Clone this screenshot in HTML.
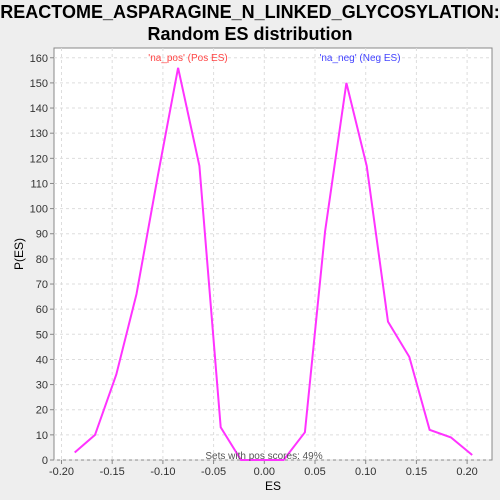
<!DOCTYPE html>
<html><head><meta charset="utf-8"><style>
body{margin:0;background:#eeeeee;}
svg{display:block;font-family:"Liberation Sans",sans-serif;}
</style></head><body>
<svg id="chart" width="500" height="500">
<text x="250" y="18" text-anchor="middle" font-size="18" font-weight="bold" fill="#000">REACTOME_ASPARAGINE_N_LINKED_GLYCOSYLATION:</text>
<text x="250" y="40" text-anchor="middle" font-size="18" font-weight="bold" fill="#000">Random ES distribution</text>
<rect x="54" y="48" width="438" height="412" fill="#fff" stroke="#888"/>
<g id="grid"></g><g id="axes"></g><g id="series"></g>
<text x="188" y="61" text-anchor="middle" font-size="10" fill="#ff4444">'na_pos' (Pos ES)</text>
<text x="360" y="61" text-anchor="middle" font-size="10" fill="#4444ff">'na_neg' (Neg ES)</text>
<text x="264" y="459" text-anchor="middle" font-size="10" fill="#555">Sets with pos scores: 49%</text>
<text x="273" y="490" text-anchor="middle" font-size="12" fill="#000">ES</text>
<text x="23" y="254" text-anchor="middle" font-size="12" fill="#000" transform="rotate(-90 23 254)">P(ES)</text>
</svg>
<script>
const esValues=[-0.187,-0.167,-0.146,-0.126,-0.105,-0.085,-0.064,-0.043,-0.023,-0.002,0.019,0.040,0.060,0.081,0.101,0.122,0.143,0.163,0.184,0.205];
const densityValues=[3,10,34,66,113,156,117,13,0,0,0,11,91,150,117,55,41,12,9,2];
const xTicks=[-0.20,-0.15,-0.10,-0.05,0.00,0.05,0.10,0.15,0.20];
const yTicks=[0,10,20,30,40,50,60,70,80,90,100,110,120,130,140,150,160];
const NS="http://www.w3.org/2000/svg";
function xs(v){return 264.3+v*1014;}
function ys(v){return 460-v*2.514;}
const grid=document.getElementById('grid'),axes=document.getElementById('axes'),series=document.getElementById('series');
function mk(t,a,p){const e=document.createElementNS(NS,t);for(const k in a)e.setAttribute(k,a[k]);p.appendChild(e);return e;}
xTicks.forEach(t=>{
 const x=xs(t);
 const g=mk('line',{x1:x,x2:x,y1:48,y2:460,stroke:'#ddd','stroke-dasharray':'3,3'},grid);
 
 
 const tk=mk('line',{x1:x,x2:x,y1:460,y2:464,stroke:'#888'},axes);
 
 
 const l=mk('text',{x:x,y:475,'text-anchor':'middle','font-size':'11',fill:'#333'},axes);
 l.textContent=t.toFixed(2);
 
 
});
yTicks.forEach(t=>{
 const y=ys(t);
 const g=mk('line',{x1:54,x2:492,y1:y,y2:y,stroke:'#ddd','stroke-dasharray':'3,3'},grid);
 
 
 const tk=mk('line',{x1:50,x2:54,y1:y,y2:y,stroke:'#888'},axes);
 
 
 const l=mk('text',{x:48,y:y+4,'text-anchor':'end','font-size':'11',fill:'#333'},axes);
 l.textContent=t;
 
 
});
const pts=esValues.map((v,i)=>xs(v).toFixed(1)+','+ys(densityValues[i]).toFixed(1)).join(' ');
const pl=mk('polyline',{points:pts,fill:'none',stroke:'#ff33ff','stroke-width':'2'},series);


</script>
</body></html>
